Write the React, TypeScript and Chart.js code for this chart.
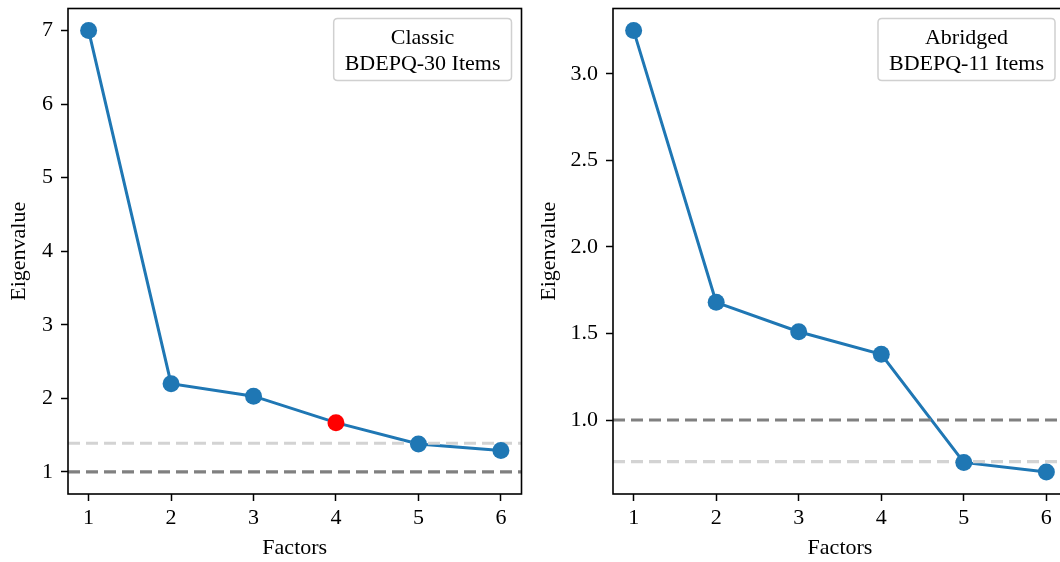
import React, { useEffect, useRef } from "react";
import { Chart, registerables } from "chart.js";

Chart.register(...registerables);

// ---- data ----
const factors = [1, 2, 3, 4, 5, 6];

const classicEigen = [7.0, 2.2, 2.03, 1.67, 1.38, 1.29];
const classicKaiser = 1.0;
const classicParallel = 1.39;
const classicLegend = ["Classic", "BDEPQ-30 Items"];
const classicHighlight = 3; // factor 4 shown in red
const classicYTicks = [1, 2, 3, 4, 5, 6, 7];

const abridgedEigen = [3.25, 1.68, 1.51, 1.38, 0.755, 0.7];
const abridgedKaiser = 1.0;
const abridgedParallel = 0.76;
const abridgedLegend = ["Abridged", "BDEPQ-11 Items"];
const abridgedHighlight = -1;
const abridgedYTicks = [1.0, 1.5, 2.0, 2.5, 3.0];

const xLabel = "Factors";
const yLabel = "Eigenvalue";

// ---- style ----
const FONT = { family: "'Liberation Serif', 'DejaVu Serif', serif", size: 22 };
const BLUE = "#1f77b4";
const RED = "#ff0000";
const DARK_GREY = "#808080";
const LIGHT_GREY = "#d3d3d3";

const framePlugin = {
  id: "frame",
  afterDraw(chart: any) {
    const { ctx, chartArea } = chart;
    ctx.save();
    ctx.strokeStyle = "#000";
    ctx.lineWidth = 1.6;
    ctx.strokeRect(chartArea.left, chartArea.top, chartArea.right - chartArea.left, chartArea.bottom - chartArea.top);
    ctx.restore();
  },
};

const boxLegendPlugin = {
  id: "boxLegend",
  afterDraw(chart: any, _args: any, opts: any) {
    const lines: string[] = opts.lines || [];
    if (!lines.length) return;
    const { ctx, chartArea } = chart;
    ctx.save();
    ctx.font = `${FONT.size}px ${FONT.family}`;
    const tw = Math.max(...lines.map((l) => ctx.measureText(l).width));
    const padX = 11;
    const lineH = 26;
    const w = tw + padX * 2;
    const h = lines.length * lineH + 10;
    const x = chartArea.right - opts.inset - w;
    const y = chartArea.top + 10;
    const r = 4;
    ctx.beginPath();
    ctx.moveTo(x + r, y);
    ctx.lineTo(x + w - r, y);
    ctx.quadraticCurveTo(x + w, y, x + w, y + r);
    ctx.lineTo(x + w, y + h - r);
    ctx.quadraticCurveTo(x + w, y + h, x + w - r, y + h);
    ctx.lineTo(x + r, y + h);
    ctx.quadraticCurveTo(x, y + h, x, y + h - r);
    ctx.lineTo(x, y + r);
    ctx.quadraticCurveTo(x, y, x + r, y);
    ctx.closePath();
    ctx.fillStyle = "rgba(255,255,255,0.85)";
    ctx.fill();
    ctx.strokeStyle = "#d0d0d0";
    ctx.lineWidth = 1.5;
    ctx.stroke();
    ctx.fillStyle = "#000";
    ctx.textAlign = "center";
    ctx.textBaseline = "middle";
    lines.forEach((l, i) => {
      ctx.fillText(l, x + w / 2, y + 7 + lineH * i + lineH / 2);
    });
    ctx.restore();
  },
};

interface PanelProps {
  eigen: number[];
  kaiser: number;
  parallel: number;
  legend: string[];
  highlight: number;
  yTicks: number[];
  decimals: number;
  yAxisWidth: number;
  padRight: number;
  legendInset: number;
  width: number;
  left: number;
}

function Panel(p: PanelProps) {
  const ref = useRef<HTMLCanvasElement>(null);
  useEffect(() => {
    if (!ref.current) return;
    const all = [...p.eigen, p.kaiser, p.parallel];
    const lo = Math.min(...all);
    const hi = Math.max(...all);
    const m = (hi - lo) * 0.05;
    const xMin = factors[0] - (factors[factors.length - 1] - factors[0]) * 0.05;
    const xMax = factors[factors.length - 1] + (factors[factors.length - 1] - factors[0]) * 0.05;
    const pts = factors.map((f, i) => ({ x: f, y: p.eigen[i] }));
    const hline = (v: number) => [
      { x: xMin, y: v },
      { x: xMax, y: v },
    ];
    const chart = new Chart(ref.current, {
      type: "line",
      data: {
        datasets: [
          {
            data: pts,
            showLine: false,
            pointRadius: 8.5,
            pointHoverRadius: 8.5,
            pointBorderWidth: 0,
            pointBackgroundColor: factors.map((_, i) => (i === p.highlight ? RED : BLUE)),
            pointBorderColor: factors.map((_, i) => (i === p.highlight ? RED : BLUE)),
            order: 0,
          },
          {
            data: hline(p.parallel),
            borderColor: LIGHT_GREY,
            borderWidth: 3.2,
            borderDash: [12, 6],
            pointRadius: 0,
            order: 1,
          },
          {
            data: hline(p.kaiser),
            borderColor: DARK_GREY,
            borderWidth: 3.2,
            borderDash: [12, 6],
            pointRadius: 0,
            order: 1,
          },
          {
            data: pts,
            borderColor: BLUE,
            borderWidth: 3,
            pointRadius: 0,
            tension: 0,
            order: 2,
          },
        ],
      },
      options: {
        animation: false,
        responsive: false,
        events: [],
        layout: { padding: { top: 8, right: p.padRight, left: 0, bottom: 0 } },
        plugins: {
          legend: { display: false },
          tooltip: { enabled: false },
          boxLegend: { lines: p.legend, inset: p.legendInset },
        } as any,
        scales: {
          x: {
            type: "linear",
            min: xMin,
            max: xMax,
            afterBuildTicks: (s: any) => {
              s.ticks = factors.map((v) => ({ value: v }));
            },
            afterFit: (s: any) => {
              s.height = 68;
              s.paddingLeft = 0;
              s.paddingRight = 0;
            },
            ticks: {
              font: FONT,
              color: "#000",
              padding: 4,
              maxRotation: 0,
              autoSkip: false,
              callback: (v: any) => String(v),
            },
            grid: {
              display: true,
              drawOnChartArea: false,
              drawTicks: true,
              tickLength: 7,
              tickWidth: 1.5,
              tickColor: "#000",
            },
            border: { display: false },
            title: { display: true, text: xLabel, font: FONT, color: "#000", padding: { top: 0, bottom: 1 } },
          },
          y: {
            type: "linear",
            min: lo - m,
            max: hi + m,
            afterBuildTicks: (s: any) => {
              s.ticks = p.yTicks.map((v) => ({ value: v }));
            },
            afterFit: (s: any) => {
              s.width = p.yAxisWidth;
              s.paddingTop = 0;
              s.paddingBottom = 0;
            },
            ticks: {
              font: FONT,
              color: "#000",
              padding: 8,
              callback: (v: any) => Number(v).toFixed(p.decimals),
            },
            grid: {
              display: true,
              drawOnChartArea: false,
              drawTicks: true,
              tickLength: 7,
              tickWidth: 1.5,
              tickColor: "#000",
            },
            border: { display: false },
            title: { display: true, text: yLabel, font: FONT, color: "#000", padding: { top: 6, bottom: 0 } },
          },
        },
      } as any,
      plugins: [framePlugin, boxLegendPlugin],
    });
    return () => chart.destroy();
  }, []);
  return (
    <canvas
      ref={ref}
      width={p.width}
      height={562}
      style={{ position: "absolute", left: p.left, top: 0, width: p.width, height: 562 }}
    />
  );
}

export default function App() {
  return (
    <div
      style={{
        position: "fixed",
        left: 0,
        top: 0,
        width: 1060,
        height: 562,
        overflow: "hidden",
        background: "#fff",
      }}
    >
      <Panel
        eigen={classicEigen}
        kaiser={classicKaiser}
        parallel={classicParallel}
        legend={classicLegend}
        highlight={classicHighlight}
        yTicks={classicYTicks}
        decimals={0}
        yAxisWidth={68}
        padRight={8}
        legendInset={10}
        width={530}
        left={0}
      />
      <Panel
        eigen={abridgedEigen}
        kaiser={abridgedKaiser}
        parallel={abridgedParallel}
        legend={abridgedLegend}
        highlight={abridgedHighlight}
        yTicks={abridgedYTicks}
        decimals={1}
        yAxisWidth={83}
        padRight={23}
        legendInset={12}
        width={560}
        left={530}
      />
    </div>
  );
}
